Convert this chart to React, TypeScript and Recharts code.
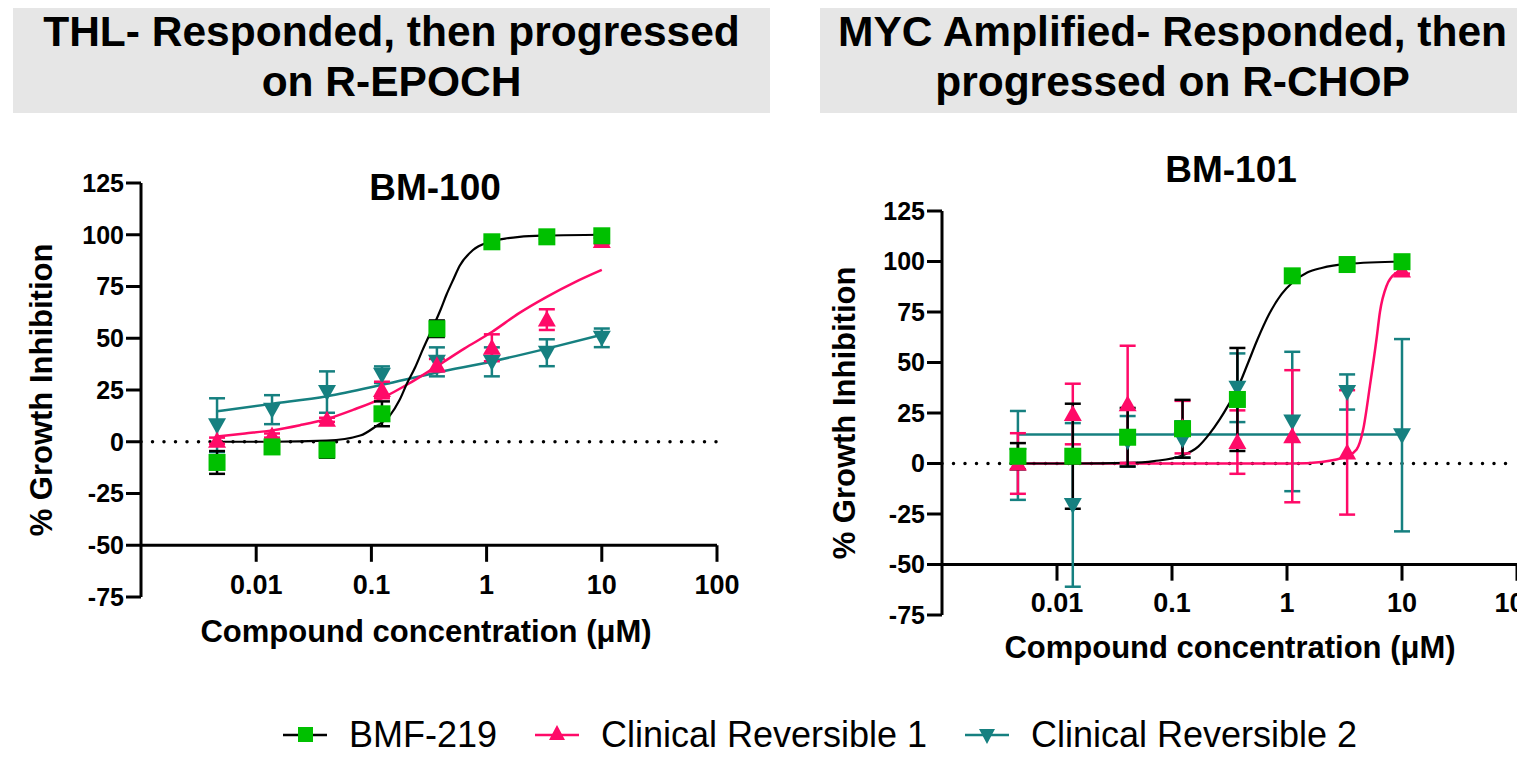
import React from "react";
import {
  ComposedChart,
  Line,
  Scatter,
  ErrorBar,
  XAxis,
  YAxis,
  ReferenceLine,
} from "recharts";

// 3-fold dilution series (µM)
const doses = [0.004572, 0.01372, 0.04115, 0.1235, 0.3704, 1.111, 3.333, 10];
const xTicks = [0.01, 0.1, 1, 10, 100];
const yTicks = [-75, -50, -25, 0, 25, 50, 75, 100, 125];
const seriesNames = ["BMF-219", "Clinical Reversible 1", "Clinical Reversible 2"];

// BM-100 points (mean, error)
const bm100Bmf = [-10, -2.5, -4, 13.5, 54.6, 96.6, 99, 99.5];
const bm100BmfErr = [5.5, 1, 3.7, 6, 4, 1, 1, 1];
const bm100Cr1 = [0.5, 3, 10.6, 25, 37, 45.4, 59, 97];
const bm100Cr1Err = [1.5, 1, 1, 4, 3, 6.5, 5, 1.5];
const bm100Cr2 = [8, 15.5, 24, 32.4, 38.6, 38.6, 43, 50.2];
const bm100Cr2Err = [13, 7, 10, 4, 7, 7, 6.5, 4.5];

// BM-100 fitted curves
const bm100BmfFitX = [0.004572, 0.0137, 0.041, 0.08, 0.111, 0.144, 0.175, 0.203, 0.24, 0.279, 0.34, 0.4, 0.448, 0.52, 0.584, 0.757, 1.06, 1.5, 1.93, 3.33, 10];
const bm100BmfFitY = [0, 0, 0.5, 3, 7.7, 12.5, 20, 28, 36, 44.5, 55, 64, 71, 79, 85, 92.5, 96.5, 98.3, 99, 99.6, 100];
const bm100Cr1FitX = [0.004572, 0.008, 0.0137, 0.024, 0.041, 0.07, 0.123, 0.21, 0.37, 0.64, 1.11, 1.9, 3.33, 5.8, 10];
const bm100Cr1FitY = [2.5, 4, 5.5, 8, 11, 15.5, 21, 28, 36.5, 45, 53, 62, 70, 77, 83];
const bm100Cr2FitX = [0.004572, 0.01372, 0.04115, 0.1235, 0.3704, 1.111, 3.333, 10];
const bm100Cr2FitY = [14.7, 18.3, 22, 27.5, 33.5, 38.8, 45, 51.7];

// BM-101 points (mean, error)
const bm101Bmf = [3.6, 3.6, 13, 17.2, 31.7, 92.9, 98.5, 99.9];
const bm101BmfErr = [6.5, 26, 14.5, 14.3, 25.5, 1, 1, 1];
const bm101Cr1 = [0, 24.5, 29.3, 18, 10.6, 13.5, 5.5, 95.5];
const bm101Cr1Err = [15, 15, 29, 13, 15.7, 32.7, 30.8, 1.5];
const bm101Cr2 = [4, -20.5, 11, 11.9, 37.5, 20.8, 35.4, 14];
const bm101Cr2Err = [22, 40.5, 12.5, 9, 17, 34.5, 8.7, 47.6];

// BM-101 fitted curves
const bm101BmfFitX = [0.004572, 0.0137, 0.041, 0.07, 0.123, 0.17, 0.21, 0.26, 0.31, 0.37, 0.46, 0.55, 0.7, 0.9, 1.11, 1.5, 2, 3.33, 10];
const bm101BmfFitY = [0, 0, 0.3, 1.2, 4, 8.5, 14.4, 21.8, 29, 37, 50, 61, 74, 84, 89.5, 94.5, 96.8, 98.8, 100];
const bm101Cr1FitX = [0.004572, 0.1, 1.11, 2, 3.33, 4.03, 4.6, 5.26, 6.0, 6.43, 7.35, 9.0, 10];
const bm101Cr1FitY = [0, 0, 0, 0.8, 3.6, 6.9, 16.9, 38.4, 61.5, 75, 88, 94.6, 96];
const bm101Cr2FitX = [0.004572, 10];
const bm101Cr2FitY = [14.4, 14.4];

const GREEN = "#00C000";
const PINK = "#FF0A68";
const TEAL = "#168080";
const FONT = '"Liberation Sans", Arial, Helvetica, sans-serif';

const pts = (xs: number[], ys: number[], errs?: number[]) =>
  xs.map((x, i) => ({ x, y: ys[i], err: errs ? errs[i] : 0 }));

const Square = (p: any) => (
  <rect x={p.cx - 8.5} y={p.cy - 8.5} width={17} height={17} fill={GREEN} />
);
const TriUp = (p: any) => (
  <polygon
    points={`${p.cx},${p.cy - 9} ${p.cx + 9},${p.cy + 7} ${p.cx - 9},${p.cy + 7}`}
    fill={PINK}
  />
);
const TriDown = (p: any) => (
  <polygon
    points={`${p.cx - 9},${p.cy - 7} ${p.cx + 9},${p.cy - 7} ${p.cx},${p.cy + 9}`}
    fill={TEAL}
  />
);

const XTick = (props: any) => {
  const { x, y, payload } = props;
  return (
    <text
      x={x}
      y={y - 12}
      textAnchor="middle"
      dominantBaseline="central"
      fontSize={27}
      fontWeight={700}
      fontFamily={FONT}
      fill="#000"
    >
      {payload.value}
    </text>
  );
};

interface DoseChartProps {
  width: number;
  height: number;
  margin: { top: number; right: number; bottom: number; left: number };
  bmf: any[];
  cr1: any[];
  cr2: any[];
  bmfFit: any[];
  cr1Fit: any[];
  cr2Fit: any[];
}

const DoseChart = ({ width, height, margin, bmf, cr1, cr2, bmfFit, cr1Fit, cr2Fit }: DoseChartProps) => (
  <ComposedChart width={width} height={height} margin={margin}>
    <XAxis
      type="number"
      dataKey="x"
      scale="log"
      domain={[0.001, 100]}
      ticks={xTicks}
      height={30}
      axisLine={false}
      tickLine={false}
      tickSize={0}
      tickMargin={0}
      tick={<XTick />}
      interval={0}
    />
    <YAxis
      type="number"
      dataKey="y"
      domain={[-75, 125]}
      ticks={yTicks}
      width={60}
      interval={0}
      axisLine={{ stroke: "#000", strokeWidth: 3 }}
      tickLine={{ stroke: "#000", strokeWidth: 3 }}
      tickSize={15}
      tickMargin={2}
      tick={{ fill: "#000", fontSize: 25, fontWeight: 700, fontFamily: FONT }}
    />
    <ReferenceLine
      y={0}
      stroke="#000"
      strokeWidth={3.5}
      strokeDasharray="0 11.5"
      strokeLinecap="round"
    />
    <ReferenceLine y={-50} stroke="#000" strokeWidth={3} />
    {xTicks.map((t) => (
      <ReferenceLine
        key={t}
        segment={[
          { x: t, y: -50 },
          { x: t, y: -58 },
        ]}
        stroke="#000"
        strokeWidth={3}
      />
    ))}
    <Line data={cr2Fit} dataKey="y" type="monotone" stroke={TEAL} strokeWidth={2.5} dot={false} activeDot={false} isAnimationActive={false} />
    <Line data={cr1Fit} dataKey="y" type="monotone" stroke={PINK} strokeWidth={2.5} dot={false} activeDot={false} isAnimationActive={false} />
    <Line data={bmfFit} dataKey="y" type="monotone" stroke="#000" strokeWidth={2.2} dot={false} activeDot={false} isAnimationActive={false} />
    <Scatter name={seriesNames[2]} data={cr2} dataKey="y" shape={TriDown} isAnimationActive={false}>
      <ErrorBar dataKey="err" direction="y" width={8} stroke={TEAL} strokeWidth={2.5} />
    </Scatter>
    <Scatter name={seriesNames[1]} data={cr1} dataKey="y" shape={TriUp} isAnimationActive={false}>
      <ErrorBar dataKey="err" direction="y" width={8} stroke={PINK} strokeWidth={2.5} />
    </Scatter>
    <Scatter name={seriesNames[0]} data={bmf} dataKey="y" shape={Square} isAnimationActive={false}>
      <ErrorBar dataKey="err" direction="y" width={8} stroke="#000" strokeWidth={2.5} />
    </Scatter>
  </ComposedChart>
);

const abs = (left: number, top: number, extra: React.CSSProperties = {}): React.CSSProperties => ({
  position: "absolute",
  left,
  top,
  fontFamily: FONT,
  color: "#000",
  whiteSpace: "nowrap",
  ...extra,
});

const centered = (cx: number, cy: number, size: number, rotate = 0): React.CSSProperties =>
  abs(cx, cy, {
    fontSize: size,
    fontWeight: 700,
    transform: `translate(-50%, -50%)${rotate ? ` rotate(${rotate}deg)` : ""}`,
  });

const legendItems = [
  { left: 283, name: seriesNames[0], line: "#000", marker: <rect x={15} y={7} width={15} height={15} fill={GREEN} /> },
  { left: 535, name: seriesNames[1], line: PINK, marker: <polygon points="22,5 30,20 14,20" fill={PINK} /> },
  { left: 965, name: seriesNames[2], line: TEAL, marker: <polygon points="14,9 30,9 22,24" fill={TEAL} /> },
];

const titleBox: React.CSSProperties = {
  height: 113,
  background: "#E6E6E6",
  textAlign: "center",
  fontSize: 42.5,
  fontWeight: 700,
  lineHeight: "50px",
  paddingTop: 7,
  boxSizing: "border-box",
};

export default function App() {
  return (
    <div style={{ position: "relative", width: 1525, height: 757, margin: -8, overflow: "hidden", background: "#fff" }}>
      <div style={abs(13, 0, { ...titleBox, width: 757 })}>
        THL- Responded, then progressed
        <br />
        on R-EPOCH
      </div>
      <div style={abs(820, 0, { ...titleBox, width: 705 })}>
        MYC Amplified- Responded, then
        <br />
        progressed on R-CHOP
      </div>

      <div style={abs(0, 0)}>
        <DoseChart
          width={760}
          height={680}
          margin={{ top: 183, right: 43, bottom: 53, left: 81 }}
          bmf={pts(doses, bm100Bmf, bm100BmfErr)}
          cr1={pts(doses, bm100Cr1, bm100Cr1Err)}
          cr2={pts(doses, bm100Cr2, bm100Cr2Err)}
          bmfFit={pts(bm100BmfFitX, bm100BmfFitY)}
          cr1Fit={pts(bm100Cr1FitX, bm100Cr1FitY)}
          cr2Fit={pts(bm100Cr2FitX, bm100Cr2FitY)}
        />
      </div>
      <div style={abs(800, 0)}>
        <DoseChart
          width={725}
          height={680}
          margin={{ top: 211, right: 8, bottom: 35, left: 82 }}
          bmf={pts(doses, bm101Bmf, bm101BmfErr)}
          cr1={pts(doses, bm101Cr1, bm101Cr1Err)}
          cr2={pts(doses, bm101Cr2, bm101Cr2Err)}
          bmfFit={pts(bm101BmfFitX, bm101BmfFitY)}
          cr1Fit={pts(bm101Cr1FitX, bm101Cr1FitY)}
          cr2Fit={pts(bm101Cr2FitX, bm101Cr2FitY)}
        />
      </div>

      <div style={centered(435, 188, 37)}>BM-100</div>
      <div style={centered(1231, 170, 37)}>BM-101</div>
      <div style={centered(42, 390, 31, -90)}>% Growth Inhibition</div>
      <div style={centered(845, 413, 31, -90)}>% Growth Inhibition</div>
      <div style={centered(426, 632, 31)}>Compound concentration (μM)</div>
      <div style={centered(1230, 648, 31)}>Compound concentration (μM)</div>

      {legendItems.map((it) => (
        <div key={it.name} style={abs(it.left, 712, { height: 46, display: "flex", alignItems: "center" })}>
          <svg width={44} height={30} style={{ marginRight: 22 }}>
            <line x1={0} y1={15} x2={44} y2={15} stroke={it.line} strokeWidth={2.5} />
            {it.marker}
          </svg>
          <span style={{ fontSize: 36, lineHeight: "46px" }}>{it.name}</span>
        </div>
      ))}
    </div>
  );
}
